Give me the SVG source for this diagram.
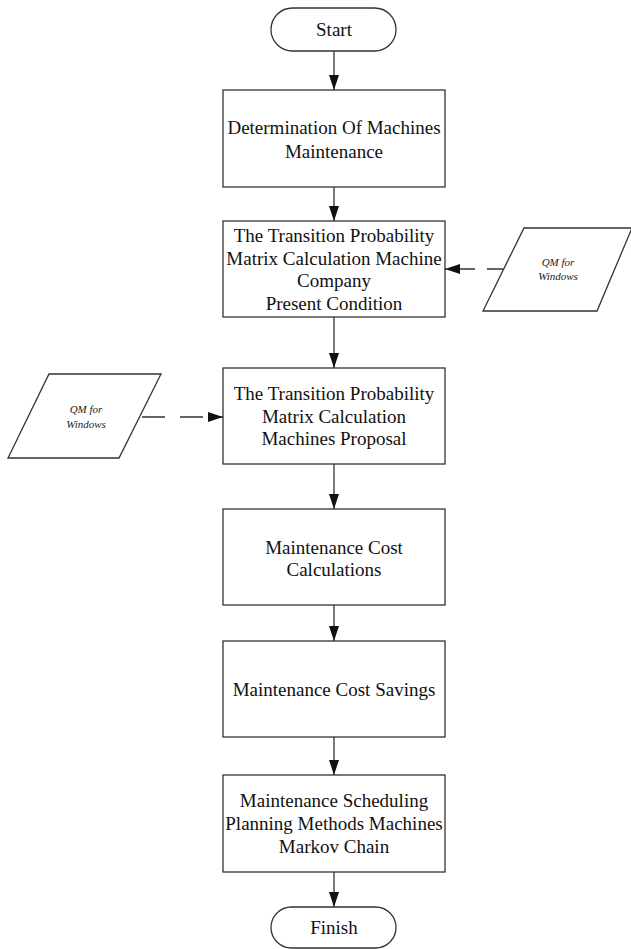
<svg xmlns="http://www.w3.org/2000/svg" width="631" height="949" viewBox="0 0 631 949">
<defs>
<marker id="ah" markerUnits="userSpaceOnUse" markerWidth="16" markerHeight="12" refX="15" refY="5" orient="auto">
<path d="M0,0 L15,5 L0,10 Z" fill="#111"/>
</marker>
<style>
.n{fill:#fff;stroke:#333;stroke-width:1.3}
.t{font-family:"Liberation Serif","Times New Roman",serif;font-size:19px;fill:#111;text-anchor:middle}
.q{font-family:"Liberation Serif","Times New Roman",serif;font-size:11px;font-style:italic;fill:#222;text-anchor:middle}
.c{stroke:#333;stroke-width:1.3;fill:none;marker-end:url(#ah)}
.d1{stroke-dasharray:16,12}
.d2{stroke-dasharray:23,15}
</style>
</defs>
<rect width="631" height="949" fill="#fff"/>
<g id="connectors">
<line class="c" x1="334" y1="51" x2="334" y2="90"/>
<line class="c" x1="334" y1="187" x2="334" y2="221"/>
<line class="c" x1="334" y1="317" x2="334" y2="368"/>
<line class="c" x1="334" y1="464" x2="334" y2="509"/>
<line class="c" x1="334" y1="605" x2="334" y2="641"/>
<line class="c" x1="334" y1="737" x2="334" y2="775"/>
<line class="c" x1="334" y1="872" x2="334" y2="907"/>
<line class="c d1" x1="503" y1="269" x2="445" y2="269"/>
<line class="c d2" x1="142" y1="417" x2="223" y2="417"/>
</g>
<g id="start">
<rect class="n" x="271" y="8" width="125" height="43" rx="21.5"/>
<text class="t" x="334" y="36">Start</text>
</g>
<g id="box1">
<rect class="n" x="223" y="90" width="222" height="97"/>
<text class="t" x="334" y="134">Determination Of Machines</text>
<text class="t" x="334" y="158">Maintenance</text>
</g>
<g id="box2">
<rect class="n" x="223" y="221" width="222" height="96"/>
<text class="t" x="334" y="242">The Transition Probability</text>
<text class="t" x="334" y="264.5">Matrix Calculation Machine</text>
<text class="t" x="334" y="287">Company</text>
<text class="t" x="334" y="309.5">Present Condition</text>
</g>
<g id="qm1">
<polygon class="n" points="524,228 632,228 597,311 483,311"/>
<text class="q" x="558" y="266">QM for</text>
<text class="q" x="558" y="280">Windows</text>
</g>
<g id="box3">
<rect class="n" x="223" y="368" width="222" height="96"/>
<text class="t" x="334" y="400">The Transition Probability</text>
<text class="t" x="334" y="422.5">Matrix Calculation</text>
<text class="t" x="334" y="445">Machines Proposal</text>
</g>
<g id="qm2">
<polygon class="n" points="49,374 161,374 119,458 8,458"/>
<text class="q" x="86" y="413">QM for</text>
<text class="q" x="86" y="428">Windows</text>
</g>
<g id="box4">
<rect class="n" x="223" y="509" width="222" height="96"/>
<text class="t" x="334" y="553.5">Maintenance Cost</text>
<text class="t" x="334" y="576">Calculations</text>
</g>
<g id="box5">
<rect class="n" x="223" y="641" width="222" height="96"/>
<text class="t" x="334" y="696">Maintenance Cost Savings</text>
</g>
<g id="box6">
<rect class="n" x="223" y="775" width="222" height="97"/>
<text class="t" x="334" y="807">Maintenance Scheduling</text>
<text class="t" x="334" y="830">Planning Methods Machines</text>
<text class="t" x="334" y="853">Markov Chain</text>
</g>
<g id="finish">
<rect class="n" x="271" y="907" width="125" height="41" rx="20.5"/>
<text class="t" x="334" y="934">Finish</text>
</g>
</svg>
